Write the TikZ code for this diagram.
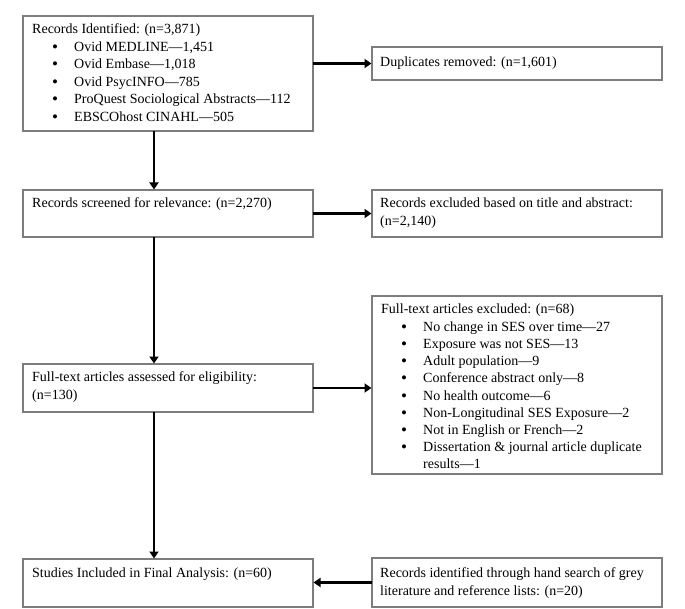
\documentclass[tikz,border=0pt]{standalone}
\usepackage{fontspec}
\setmainfont{Liberation Serif}
\usetikzlibrary{arrows.meta}
\definecolor{boxgray}{RGB}{125,125,125}
\begin{document}
\begin{tikzpicture}[x=1pt,y=-1pt,
  box/.style={draw=boxgray, line width=1.1pt, anchor=north west, inner sep=0pt, outer sep=0pt},
  txt/.style={anchor=base west, inner sep=0pt, font=\fontsize{14}{17}\selectfont},
  bul/.style={anchor=base, inner sep=0pt, font=\fontsize{17}{17}\selectfont},
  arr/.style={line width=2.8pt, -{Triangle[length=7pt,width=9pt]}, shorten >=0.5pt}]
\useasboundingbox[fill=white] (0,0) rectangle (685,609);
\coordinate (spine) at (154,0);

% boxes
\node[box, minimum width=290pt, minimum height=115pt] (A) at (23,16) {};
\node[box, minimum width=290pt, minimum height=33pt] (B) at (372,47) {};
\node[box, minimum width=290pt, minimum height=47pt] (C) at (23,190) {};
\node[box, minimum width=290pt, minimum height=47pt] (D) at (372,190) {};
\node[box, minimum width=290pt, minimum height=48pt] (E) at (23,364) {};
\node[box, minimum width=290pt, minimum height=178pt] (F) at (372,296) {};
\node[box, minimum width=290pt, minimum height=48pt] (G) at (23,559) {};
\node[box, minimum width=290pt, minimum height=49pt] (H) at (372,558) {};

% box A text
\node[txt] (a0) at (32,33.5) {Records Identified: (n=3,871)};
\foreach \t [count=\i from 1] in {{Ovid MEDLINE—1,451}, {Ovid Embase—1,018}, {Ovid PsycINFO—785}, {ProQuest Sociological Abstracts—112}, {EBSCOhost CINAHL—505}}{
  \node[bul] (ab\i) at (55,{34.5+17.6*\i}) {\textbullet};
  \node[txt] (a\i) at (74,{33.5+17.6*\i}) {\t};
}

% box B text
\node[txt] (b0) at (380,66.5) {Duplicates removed: (n=1,601)};

% box C text
\node[txt] (c0) at (32,207.5) {Records screened for relevance: (n=2,270)};

% box D text
\node[txt] (d0) at (380,207.5) {Records excluded based on title and abstract:};
\node[txt] (d1) at (380,225.5) {(n=2,140)};

% box E text
\node[txt] (e0) at (32,381.5) {Full-text articles assessed for eligibility:};
\node[txt] (e1) at (32,399.5) {(n=130)};

% box F text
\node[txt] (f0) at (381,313.5) {Full-text articles excluded: (n=68)};
\foreach \t [count=\i from 0] in {{No change in SES over time—27}, {Exposure was not SES—13}, {Adult population—9}, {Conference abstract only—8}, {No health outcome—6}, {Non-Longitudinal SES Exposure—2}, {Not in English or French—2}, {Dissertation \& journal article duplicate}}{
  \node[bul] (fb\i) at (404,{332.5+17.15*\i}) {\textbullet};
  \node[txt] (f\i) at (423,{331.5+17.15*\i}) {\t};
}
\node[txt] (f8) at (423,468.7) {results—1};

% box G text
\node[txt] (g0) at (32,577.5) {Studies Included in Final Analysis: (n=60)};

% box H text
\node[txt] (h0) at (380,577.5) {Records identified through hand search of grey};
\node[txt] (h1) at (380,595) {literature and reference lists: (n=20)};

% connectors
\draw[arr] (A.east |- B.west) -- (B.west);
\draw[arr] (C.east) -- (C.east -| D.west);
\draw[arr] (E.east) -- (E.east -| F.west);
\draw[arr] (H.west) -- (H.west -| G.east);
\draw[arr] (A.south -| spine) -- (C.north -| spine);
\draw[arr] (C.south -| spine) -- (E.north -| spine);
\draw[arr] (E.south -| spine) -- (G.north -| spine);
\end{tikzpicture}
\end{document}
